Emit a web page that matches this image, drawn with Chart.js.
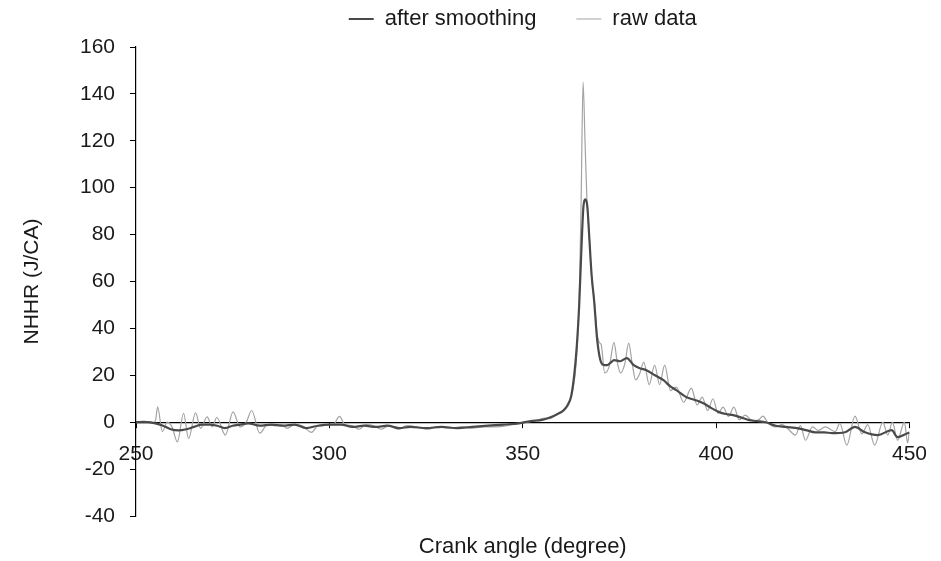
<!DOCTYPE html>
<html>
<head>
<meta charset="utf-8">
<title>NHHR vs crank angle</title>
<script src="https://cdn.jsdelivr.net/npm/chart.js@4.4.1/dist/chart.umd.min.js"></script>
<style>
  html, body { margin: 0; padding: 0; background: #fff; }
  canvas { display: block; }
</style>
</head>
<body>
<canvas id="nhhrChart" width="941" height="561"></canvas>
<script>
// values
const smoothAngle = [
  250, 253, 255, 257, 259, 261, 263, 265, 267, 269,
  271, 273, 275, 277, 279, 282, 285, 288, 291, 294,
  297, 300, 303, 306, 309, 312, 315, 318, 321, 325,
  329, 333, 337, 341, 345, 349, 352, 355, 357, 359,
  360.5, 361.5, 362.5, 363.3, 364, 364.6, 365.2, 365.7, 366.2, 366.7,
  367.2, 367.8, 368.5, 369.2, 370, 370.8, 371.8, 372.8, 373.6, 375.2,
  376.9, 378.7, 380.3, 382, 384.2, 386.4, 388, 389.7, 392.3, 394.5,
  396.7, 398.8, 400.8, 402.5, 404.4, 406.5, 408.5, 410.5, 412.8, 415.4,
  418, 421.3, 423.5, 425.6, 428, 430, 433.3, 435.9, 438.5, 441.8,
  445.4, 446.9, 449.5, 450
];
const smoothNhhr = [
  0, 0, -0.5, -1.5, -3, -3.5, -3, -2, -1, -1,
  -1.5, -2.5, -1.5, -1, -0.5, -1.5, -1, -1.5, -1, -2.5,
  -1.5, -1, -1, -2, -1.5, -2, -1.5, -2.5, -2, -2.5,
  -2, -2.5, -2, -1.5, -1, -0.5, 0.5, 1, 2, 3.5,
  5, 7, 11, 20, 33, 50, 75, 92, 95, 92,
  79, 63, 51, 36, 27, 24.5, 24.3, 25.5, 26.5, 26,
  27.3, 24.3, 23, 22.2, 20, 17.9, 15.5, 13.7, 10.7, 9.5,
  8.1, 6, 4.3, 3.5, 3, 2, 0.9, 0.5, 0, -1.5,
  -2, -2.6, -3.5, -4.3, -4.3, -4.7, -4.3, -2, -4.3, -5.5,
  -3.4, -6.4, -4.7, -4.5
];

const rawAngle = [
  250, 252, 254, 255, 255.6, 256.8, 258.1, 259.3, 260.7, 262.3,
  263.6, 265.4, 266.7, 268.4, 269.7, 270.9, 273.1, 275.1, 276.9, 278.5,
  279.9, 282, 284, 286, 287.5, 289, 291, 293, 295.4, 297,
  299, 301, 302.6, 304, 306, 307.7, 309.5, 311.5, 313.3, 315.5,
  317.9, 320, 322.5, 325.6, 328, 331, 334, 337, 340, 343,
  346, 348.7, 351, 353, 355.6, 357, 358.5, 360, 361, 362,
  363, 363.8, 364.6, 365.1, 365.6, 366.1, 366.6, 367.2, 367.8, 368.5,
  369.2, 369.8, 370.3, 371.2, 372.4, 373.6, 374.4, 375.3, 376.4, 377.4,
  378.3, 379.2, 380.3, 381.3, 382.7, 384.1, 385.4, 386.7, 388.2, 389.7,
  391.6, 393.6, 395.1, 396.4, 397.8, 399.2, 400.5, 401.8, 403.2, 404.6,
  406, 407.5, 409.5, 411, 412.1, 413.5, 415.4, 417, 418.7, 420.5,
  421.8, 423.1, 424.9, 426.4, 428.2, 430.8, 432, 433.8, 435.9, 437.7,
  439.2, 441, 443.1, 444.4, 445.6, 446.9, 448.7, 449.5, 450
];
const rawNhhr = [
  0, 0.5, -0.5, 0.5, 6.5, -4, 0, -2, -8.4, 3.8,
  -7, 4, -2.6, 2.3, -2, 2, -5.5, 4.4, -2, 0,
  5, -4.7, -1, -1.5, -1, -2.6, -1, -1.5, -4.3, -1.5,
  -1, -1, 2.5, -1, -1.5, -3, -1, -1.5, -3, -1.5,
  -3, -1.5, -2, -3, -2, -2.5, -2, -2.5, -2, -2,
  -1.5, -0.5, 0, 0.5, 1.7, 1.5, 3, 4, 5.5, 8,
  14, 25, 52, 95, 145, 120, 95, 80, 62, 52,
  38, 34, 33, 21, 24, 34, 26, 21, 25, 33.7,
  25, 18, 21, 25.6, 16, 24.3, 16, 24.3, 13.5, 15,
  8.5, 14.5, 7.3, 10.7, 5, 10, 3.8, 6.4, 2.5, 6.4,
  1, 3, 0.5, 1, 2.6, -0.5, -2, -1, -3, -5.5,
  -1.5, -7.7, -2, -3.5, -2, -4, -0.5, -9.8, 2.6, -5,
  -1, -9.8, 0, -5.5, 0, -7.7, 0, -8.8, -4
];

const xTicks = [250, 300, 350, 400, 450];
const yTicks = [-40, -20, 0, 20, 40, 60, 80, 100, 120, 140, 160];

const textColor = "#1a1a1a";
Chart.defaults.font.family = '"Liberation Sans", Arial, sans-serif';
Chart.defaults.color = textColor;

function toPoints(xs, ys) {
  return xs.map((x, i) => ({ x: x, y: ys[i] }));
}

const ctx = document.getElementById("nhhrChart").getContext("2d");

new Chart(ctx, {
  type: "line",
  data: {
    datasets: [
      {
        label: "after smoothing",
        data: toPoints(smoothAngle, smoothNhhr),
        borderColor: "#4a4a4a",
        backgroundColor: "#4a4a4a",
        borderWidth: 2.2,
        pointRadius: 0,
        cubicInterpolationMode: "monotone",
      },
      {
        label: "raw data",
        data: toPoints(rawAngle, rawNhhr),
        borderColor: "#a3a3a3",
        backgroundColor: "#a3a3a3",
        borderWidth: 1.2,
        pointRadius: 0,
        cubicInterpolationMode: "monotone",
      },
    ],
  },
  options: {
    responsive: false,
    animation: false,
    layout: {
      padding: { top: -32, right: 26, bottom: 0, left: 0 },
    },
    plugins: {
      legend: {
        fullSize: false,
        labels: {
          usePointStyle: true,
          pointStyle: "line",
          pointStyleWidth: 25,
          padding: 40,
          color: textColor,
          font: { size: 22 },
        },
      },
      // empty spacer between legend and plot
      title: {
        display: true,
        text: "",
        weight: 500,
        padding: 0,
        font: { size: 7, lineHeight: 1 },
      },
      tooltip: { enabled: false },
    },
    scales: {
      x: {
        type: "linear",
        min: 250,
        max: 450,
        position: { y: 0 },
        afterBuildTicks: (scale) => {
          scale.ticks = xTicks.map((v) => ({ value: v }));
        },
        ticks: {
          font: { size: 21 },
          padding: 14,
          color: textColor,
          maxRotation: 0,
        },
        grid: {
          drawOnChartArea: false,
          tickLength: 5,
          color: "#000",
        },
        border: { color: "#000", width: 1.2 },
      },
      xTitle: {
        type: "linear",
        position: "bottom",
        ticks: { display: false },
        grid: { display: false, drawTicks: false },
        border: { display: false },
        title: {
          display: true,
          text: "Crank angle (degree)",
          color: textColor,
          font: { size: 22 },
          padding: { top: 0, bottom: 1 },
        },
        afterFit: (scale) => {
          scale.height = 45;
        },
      },
      y: {
        type: "linear",
        min: -40,
        max: 160,
        afterBuildTicks: (scale) => {
          scale.ticks = yTicks.map((v) => ({ value: v }));
        },
        ticks: {
          font: { size: 21 },
          padding: 15,
          color: textColor,
        },
        grid: {
          drawOnChartArea: false,
          tickLength: 6,
          color: "#000",
        },
        border: { color: "#000", width: 1.2 },
        title: {
          display: true,
          text: "NHHR (J/CA)",
          color: textColor,
          font: { size: 21 },
          padding: { top: 20, bottom: 0 },
        },
        afterFit: (scale) => {
          scale.width = 136;
        },
      },
    },
  },
});
</script>
</body>
</html>
